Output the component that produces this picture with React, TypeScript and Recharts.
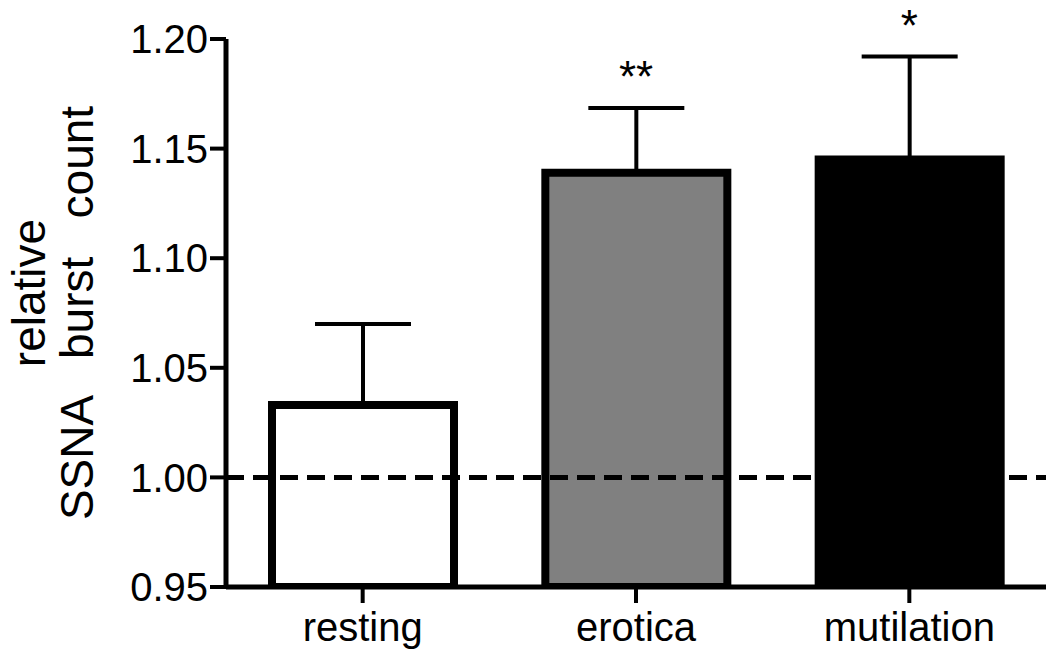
import React from 'react';
import { ComposedChart, Bar, Cell, XAxis, YAxis, ErrorBar, ReferenceLine, Line } from 'recharts';

const categories = ['resting', 'erotica', 'mutilation'];
const means = [1.033, 1.139, 1.145];
const sem = [0.037, 0.0295, 0.047];
const stars = ['', '**', '*'];
const fills = ['#ffffff', '#808080', '#000000'];
const yTicks = [0.95, 1.0, 1.05, 1.1, 1.15, 1.2];

const data = categories.map((name, i) => ({
  name,
  value: means[i],
  err: [0, sem[i]],
  top: means[i] + sem[i],
  star: stars[i],
}));

const FONT = '"Liberation Sans", Arial, Helvetica, sans-serif';

const renderYLabel = (props: any) => {
  const vb = props.viewBox || {};
  const cy = (vb.y ?? 39) + (vb.height ?? 548) / 2;
  const x1 = 45;
  const x2 = 93;
  return (
    <g>
      <text
        x={x1}
        y={cy - 20}
        transform={`rotate(-90, ${x1}, ${cy - 20})`}
        textAnchor="middle"
        fontFamily={FONT}
        fontSize={46}
        fill="#000"
      >
        relative
      </text>
      <text
        x={x2}
        y={cy}
        transform={`rotate(-90, ${x2}, ${cy})`}
        textAnchor="middle"
        fontFamily={FONT}
        fontSize={46}
        fill="#000"
        style={{ whiteSpace: 'pre' }}
      >
        {'SSNA   burst   count'}
      </text>
    </g>
  );
};

const renderStar = (props: any) => {
  const { x, y, index } = props;
  const s = stars[index];
  if (!s) return null;
  return (
    <text
      key={`star-${index}`}
      x={x}
      y={y - 16}
      textAnchor="middle"
      fontFamily={FONT}
      fontSize={44}
      fill="#000"
    >
      {s}
    </text>
  );
};

export default function App() {
  return (
    <div style={{ position: 'absolute', left: 0, top: 0, width: 1050, height: 652, background: '#fff' }}>
      <ComposedChart
        width={1050}
        height={652}
        data={data}
        margin={{ top: 39, right: 4, bottom: 0, left: 0 }}
      >
        <XAxis
          dataKey="name"
          type="category"
          height={65}
          axisLine={{ stroke: '#000', strokeWidth: 5 }}
          tickLine={{ stroke: '#000', strokeWidth: 4 }}
          tickSize={16}
          tickMargin={10}
          tick={{ fill: '#000', fontSize: 40, fontFamily: FONT }}
          interval={0}
        />
        <YAxis
          type="number"
          domain={[0.95, 1.2]}
          ticks={yTicks}
          allowDataOverflow
          width={226}
          axisLine={{ stroke: '#000', strokeWidth: 5 }}
          tickLine={{ stroke: '#000', strokeWidth: 4 }}
          tickSize={16}
          tickMargin={2}
          tick={{ fill: '#000', fontSize: 40, fontFamily: FONT }}
          tickFormatter={(v: number) => v.toFixed(2)}
          interval={0}
          label={{ content: renderYLabel }}
        />
        <Bar dataKey="value" barSize={182} stroke="#000" strokeWidth={8} isAnimationActive={false}>
          {data.map((d, i) => (
            <Cell key={d.name} fill={fills[i]} />
          ))}
          <ErrorBar dataKey="err" direction="y" width={48} stroke="#000" strokeWidth={4} isAnimationActive={false} />
        </Bar>
        <ReferenceLine y={1} stroke="#000" strokeWidth={5} strokeDasharray="18 9" />
        <Line
          dataKey="top"
          stroke="none"
          dot={false}
          activeDot={false}
          isAnimationActive={false}
          label={renderStar}
        />
      </ComposedChart>
    </div>
  );
}
